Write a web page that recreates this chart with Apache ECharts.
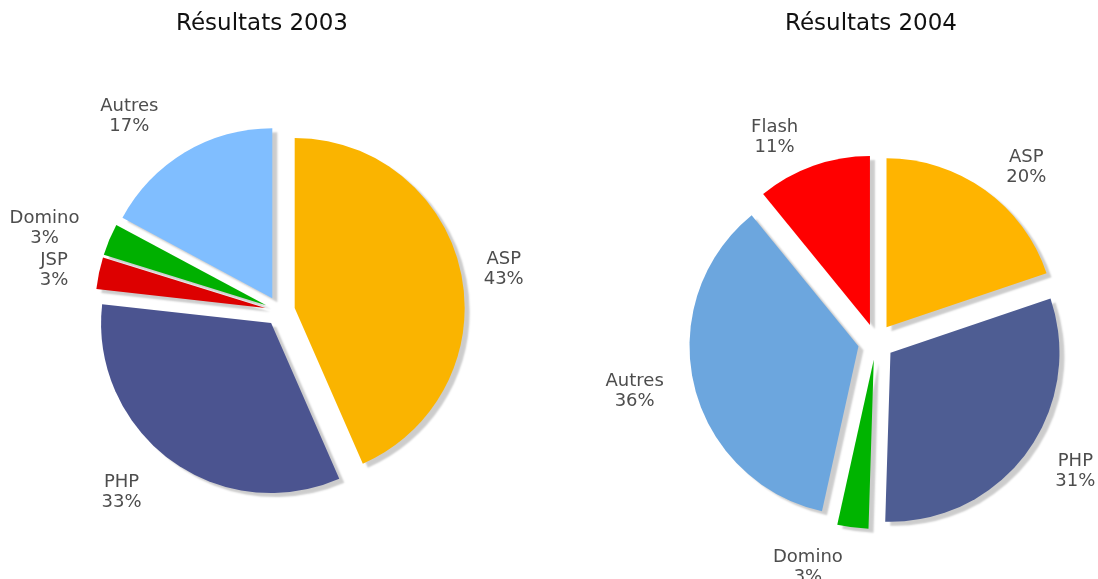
<!DOCTYPE html>
<html>
<head>
<meta charset="utf-8">
<script src="https://cdn.jsdelivr.net/npm/echarts@6/dist/echarts.min.js"></script>
<style>
  html, body { margin: 0; padding: 0; background: #fff; }
  #chart { width: 1098px; height: 579px; }
</style>
</head>
<body>
<div id="chart"></div>
<script>
// Résultats 2003
const cats2003 = ['ASP', 'PHP', 'JSP', 'Domino', 'Autres']
const vals2003 = [43, 33, 3, 3, 17]
// Résultats 2004
const cats2004 = ['ASP', 'PHP', 'Domino', 'Autres', 'Flash']
const vals2004 = [20, 31, 3, 36, 11]

const colors2003 = ['#FAB400', '#4B5490', '#DD0000', '#00B000', '#80BEFF']
const colors2004 = ['#FFB400', '#4E5D93', '#00B400', '#6CA6DE', '#FF0000']
// distance of each label from its slice
const gaps2003 = [18, 40, 30, 30, 42]
const gaps2004 = [28, 30, 40, 26, 30]

const chart = echarts.init(document.getElementById('chart'))

function buildData(cats, vals, colors, gaps) {
  return cats.map((name, i) => ({
    name: name,
    value: vals[i],
    selected: true,
    itemStyle: { color: colors[i] },
    labelLine: { length: gaps[i], length2: 0 }
  }))
}

function pieSeries(cats, vals, colors, gaps, center, radius, offset) {
  return {
    type: 'pie',
    center: center,
    radius: radius,
    startAngle: 90,
    clockwise: true,
    selectedMode: 'multiple',
    selectedOffset: offset,
    avoidLabelOverlap: true,
    itemStyle: {
      shadowColor: 'rgba(0,0,0,0.2)',
      shadowBlur: 2,
      shadowOffsetX: 5,
      shadowOffsetY: 4
    },
    select: { itemStyle: {} },
    emphasis: { disabled: true },
    label: {
      show: true,
      position: 'outside',
      formatter: function (p) {
        return '{a|' + p.name + '}\n{a|' + p.value + '%}'
      },
      rich: {
        a: {
          align: 'center',
          fontFamily: 'DejaVu Sans',
          fontSize: 18,
          lineHeight: 20,
          color: '#4d4d4d'
        }
      }
    },
    labelLine: { show: false, length: 30, length2: 0 },
    data: buildData(cats, vals, colors, gaps)
  }
}

const titleStyle = { fontFamily: 'DejaVu Sans', fontSize: 23, fontWeight: 'normal', color: '#111' }

const option = {
  animation: false,
  title: [
    { text: 'Résultats 2003', left: 257, top: 8, textAlign: 'center', textStyle: titleStyle },
    { text: 'Résultats 2004', left: 866, top: 8, textAlign: 'center', textStyle: titleStyle }
  ],
  series: [
    pieSeries(cats2003, vals2003, colors2003, gaps2003, [280, 311], 170, 15),
    pieSeries(cats2004, vals2004, colors2004, gaps2004, [876, 342], 169, 18)
  ]
}

chart.setOption(option)
window.addEventListener('resize', function () {
  chart.resize()
})
</script>
</body>
</html>
